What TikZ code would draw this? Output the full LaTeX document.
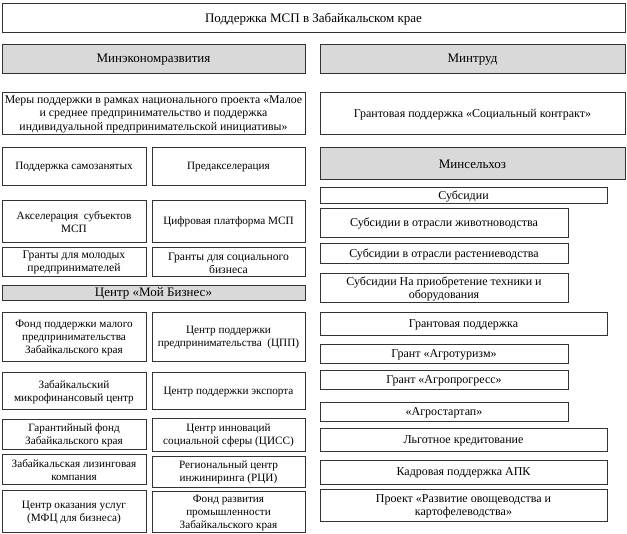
\documentclass[tikz,border=0pt]{standalone}
\usepackage{fontspec}
\setmainfont{Liberation Serif}
\definecolor{hdrgray}{HTML}{D9D9D9}
\definecolor{edge}{HTML}{333333}
\tikzset{
  box/.style={draw=edge, line width=0.9pt, inner sep=0pt, align=center,
    font=\fontsize{11.2}{13}\selectfont},
  wide/.style={box, font=\fontsize{12}{13.5}\selectfont},
  hdr/.style={box, fill=hdrgray, font=\fontsize{13}{14}\selectfont},
}
\newcommand{\bx}[7][box]{%
  \pgfmathsetmacro{\cx}{(#3+#5)/2}%
  \pgfmathsetmacro{\cy}{-(#4+#6)/2}%
  \pgfmathsetmacro{\ww}{#5-#3}%
  \pgfmathsetmacro{\hh}{#6-#4}%
  \node[#1, minimum width=\ww pt, minimum height=\hh pt] (#2) at (\cx pt,\cy pt) {};%
  \node[#1, draw=none, fill=none] at ([yshift=-1.3pt]#2.center) {#7};%
}
\begin{document}
\begin{tikzpicture}
\useasboundingbox (0,0) rectangle (627pt,-534pt);
\fill[white] (0,0) rectangle (627pt,-534pt);
% top
\bx[box, font=\fontsize{13}{14}\selectfont]{top}{2}{3}{625}{32}{Поддержка МСП в Забайкальском крае}
% ministries
\bx[hdr]{mek}{2}{44}{305}{73}{Минэкономразвития}
\bx[hdr]{mtr}{320}{44}{625}{73}{Минтруд}
\bx[box, font=\fontsize{11.8}{13.5}\selectfont]{mery}{2}{92}{305}{134}{Меры поддержки в рамках национального проекта «Малое\\и среднее предпринимательство и поддержка\\индивидуальной предпринимательской инициативы»}
\bx[wide]{soc}{320}{92}{625}{134}{Грантовая поддержка «Социальный контракт»}
% left small boxes
\bx{samo}{2}{147}{146}{185}{Поддержка самозанятых}
\bx{pred}{152}{147}{305}{185}{Предакселерация}
\bx{aksel}{2}{200}{146}{242}{Акселерация\ \ субъектов\\МСП}
\bx{cifr}{152}{200}{305}{242}{Цифровая платформа МСП}
\bx[box, font=\fontsize{11.6}{13}\selectfont]{molod}{2}{247}{146}{276}{Гранты для молодых\\предпринимателей}
\bx[box, font=\fontsize{11.6}{13}\selectfont]{sbiz}{152}{247}{305}{276}{Гранты для социального\\бизнеса}
\bx[hdr]{moj}{2}{285}{305}{300}{Центр «Мой Бизнес»}
\bx{fond}{2}{312}{146}{361}{Фонд поддержки малого\\предпринимательства\\Забайкальского края}
\bx{cpp}{152}{312}{305}{361}{Центр поддержки\\предпринимательства\ \ (ЦПП)}
\bx{mfc}{2}{372}{146}{409}{Забайкальский\\микрофинансовый центр}
\bx{exp}{152}{372}{305}{409}{Центр поддержки экспорта}
\bx{gar}{2}{419}{146}{449}{Гарантийный фонд\\Забайкальского края}
\bx{ciss}{152}{418}{305}{451}{Центр инноваций\\социальной сферы (ЦИСС)}
\bx{liz}{2}{454}{146}{484}{Забайкальская лизинговая\\компания}
\bx{rci}{152}{456}{305}{487}{Региональный центр\\инжиниринга (РЦИ)}
\bx{usl}{2}{490}{146}{532}{Центр оказания услуг\\(МФЦ для бизнеса)}
\bx{frp}{152}{491}{305}{532}{Фонд развития\\промышленности\\Забайкальского края}
% right column
\bx[hdr]{msh}{320}{147}{625}{179}{Минсельхоз}
\bx[wide]{sub}{320}{187}{607}{203}{Субсидии}
\bx[wide]{zhiv}{320}{208}{568}{237}{Субсидии в отрасли животноводства}
\bx[wide]{rast}{320}{243}{568}{263}{Субсидии в отрасли растениеводства}
\bx[wide]{tehn}{320}{273}{568}{302}{Субсидии На приобретение техники и\\оборудования}
\bx[wide]{grant}{320}{312}{607}{335}{Грантовая поддержка}
\bx[wide]{agtur}{320}{344}{568}{363}{Грант «Агротуризм»}
\bx[wide]{agpr}{320}{370}{568}{389}{Грант «Агропрогресс»}
\bx[wide]{agst}{320}{402}{568}{421}{«Агростартап»}
\bx[wide]{lgot}{320}{428}{607}{451}{Льготное кредитование}
\bx[wide]{kadr}{320}{460}{607}{484}{Кадровая поддержка АПК}
\bx[wide]{ovosh}{320}{489}{607}{521}{Проект «Развитие овощеводства и\\картофелеводства»}
\end{tikzpicture}
\end{document}
